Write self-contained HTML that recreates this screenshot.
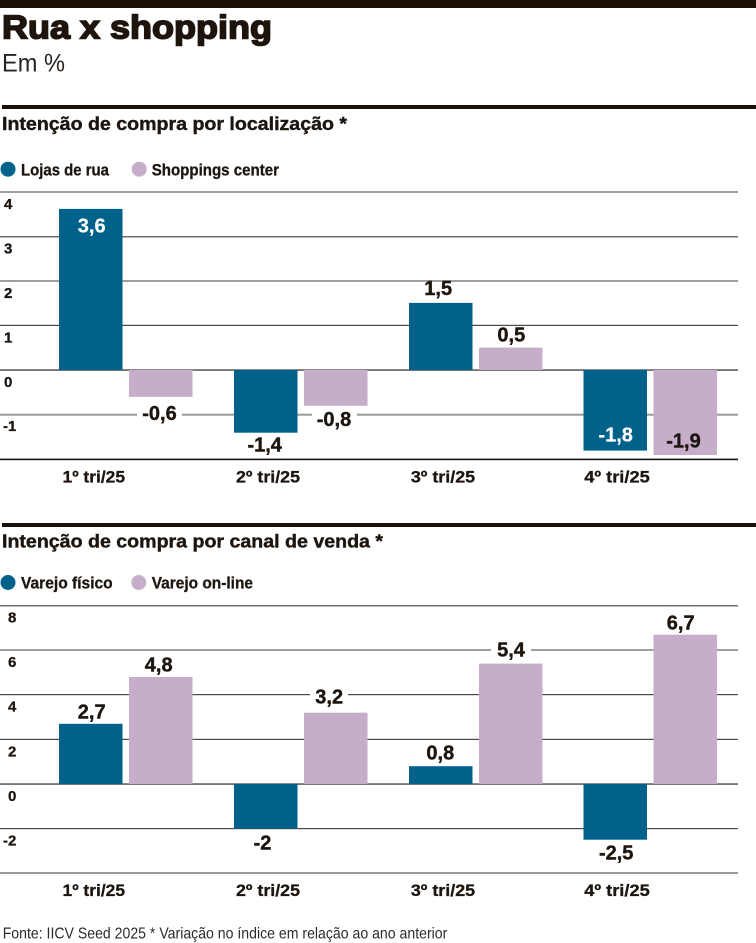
<!DOCTYPE html>
<html>
<head>
<meta charset="utf-8">
<style>
  html,body{margin:0;padding:0;background:#fff;}
  body{width:756px;height:943px;overflow:hidden;}
  svg{display:block;}
  text{font-family:"Liberation Sans", sans-serif;}
</style>
</head>
<body>
<svg width="756" height="943" viewBox="0 0 756 943" xmlns="http://www.w3.org/2000/svg">
  <rect x="0" y="0" width="756" height="943" fill="#fff"/>
  <!-- top bar -->
  <rect x="0" y="0" width="756" height="8" fill="#1a0f06"/>

  <!-- title -->
  <text x="2" y="38.5" font-size="33" font-weight="bold" fill="#1d140c" stroke="#1d140c" stroke-width="1.6" textLength="270" lengthAdjust="spacingAndGlyphs">Rua x shopping</text>
  <text x="2" y="71.7" font-size="25" fill="#2a2420" textLength="63" lengthAdjust="spacingAndGlyphs">Em %</text>

  <!-- separator 1 -->
  <rect x="2" y="105" width="754" height="4" fill="#1a0f06"/>
  <text x="2" y="130" font-size="18" font-weight="bold" fill="#1d1610" stroke="#1d1610" stroke-width="0.4" textLength="345" lengthAdjust="spacingAndGlyphs">Intenção de compra por localização *</text>

  <!-- legend 1 -->
  <circle cx="8" cy="169.2" r="7.5" fill="#00628a"/>
  <text x="21" y="175.7" font-size="16.5" font-weight="bold" fill="#1d1610" stroke="#1d1610" stroke-width="0.3" textLength="88" lengthAdjust="spacingAndGlyphs">Lojas de rua</text>
  <circle cx="139.2" cy="169.2" r="7.5" fill="#c6aecb"/>
  <text x="151.7" y="175.7" font-size="16.5" font-weight="bold" fill="#1d1610" stroke="#1d1610" stroke-width="0.3" textLength="127.3" lengthAdjust="spacingAndGlyphs">Shoppings center</text>

  <!-- chart 1 gridlines -->
  <rect x="0" y="191" width="738" height="2" fill="#a0a0a0"/>
  <rect x="0" y="236.2" width="738" height="1.2" fill="#4a4a4a"/>
  <rect x="0" y="280" width="738" height="2" fill="#a0a0a0"/>
  <rect x="0" y="324.8" width="738" height="1.2" fill="#4a4a4a"/>
  <rect x="0" y="369.4" width="738" height="1.3" fill="#3a3a3a"/>
  <rect x="0" y="413.7" width="738" height="2" fill="#9a9a9a"/>
  <rect x="0" y="458.6" width="738" height="1.6" fill="#151515"/>

  <!-- chart 1 y labels -->
  <g font-size="15" font-weight="bold" fill="#1d1610" stroke="#1d1610" stroke-width="0.3">
    <text x="4" y="209">4</text>
    <text x="4" y="253.5">3</text>
    <text x="4" y="298">2</text>
    <text x="4" y="342.5">1</text>
    <text x="4" y="387">0</text>
    <text x="3" y="431">-1</text>
  </g>

  <!-- chart 1 bars -->
  <rect x="59" y="208.9" width="63.5" height="161.1" fill="#00628a"/>
  <rect x="129" y="370" width="63.5" height="26.9" fill="#c6aecb"/>
  <rect x="234" y="370" width="63.5" height="62.7" fill="#00628a"/>
  <rect x="304" y="370" width="63.5" height="35.8" fill="#c6aecb"/>
  <rect x="409" y="302.9" width="63.5" height="67.1" fill="#00628a"/>
  <rect x="479" y="347.6" width="63.5" height="22.4" fill="#c6aecb"/>
  <rect x="583.5" y="370" width="63.5" height="80.6" fill="#00628a"/>
  <rect x="653.5" y="370" width="63.5" height="85" fill="#c6aecb"/>

  <!-- label backgrounds chart1 -->
  <rect x="137" y="411" width="45" height="7" fill="#fff"/>
  <rect x="312" y="411" width="45" height="7" fill="#fff"/>

  <!-- chart 1 value labels -->
  <g font-size="20" font-weight="bold" fill="#1d1610" stroke="#1d1610" stroke-width="0.4" text-anchor="middle">
    <text x="91.7" y="232.7" fill="#ffffff" stroke="#ffffff" stroke-width="0.2">3,6</text>
    <text x="159.5" y="420">-0,6</text>
    <text x="264.7" y="451.7">-1,4</text>
    <text x="334" y="426">-0,8</text>
    <text x="438.2" y="295">1,5</text>
    <text x="511.3" y="341.7">0,5</text>
    <text x="615.7" y="441.7" fill="#ffffff" stroke="#ffffff" stroke-width="0.2">-1,8</text>
    <text x="683.5" y="447.3">-1,9</text>
  </g>

  <!-- chart 1 x labels -->
  <g font-size="17" font-weight="bold" fill="#1d1610" stroke="#1d1610" stroke-width="0.3" text-anchor="middle">
    <text x="93.8" y="482.7" textLength="62.5" lengthAdjust="spacingAndGlyphs">1º tri/25</text>
    <text x="268" y="482.7" textLength="64" lengthAdjust="spacingAndGlyphs">2º tri/25</text>
    <text x="443" y="482.7" textLength="64.3" lengthAdjust="spacingAndGlyphs">3º tri/25</text>
    <text x="617" y="482.7" textLength="65.5" lengthAdjust="spacingAndGlyphs">4º tri/25</text>
  </g>

  <!-- separator 2 -->
  <rect x="2" y="523" width="754" height="4" fill="#1a0f06"/>
  <text x="2" y="547.3" font-size="18" font-weight="bold" fill="#1d1610" stroke="#1d1610" stroke-width="0.4" textLength="381" lengthAdjust="spacingAndGlyphs">Intenção de compra por canal de venda *</text>

  <!-- legend 2 -->
  <circle cx="8" cy="582.5" r="7.5" fill="#00628a"/>
  <text x="21" y="588.5" font-size="16.5" font-weight="bold" fill="#1d1610" stroke="#1d1610" stroke-width="0.3" textLength="91.7" lengthAdjust="spacingAndGlyphs">Varejo físico</text>
  <circle cx="138.8" cy="582.5" r="7.5" fill="#c6aecb"/>
  <text x="151.7" y="588.5" font-size="16.5" font-weight="bold" fill="#1d1610" stroke="#1d1610" stroke-width="0.3" textLength="101.3" lengthAdjust="spacingAndGlyphs">Varejo on-line</text>

  <!-- chart 2 gridlines -->
  <rect x="0" y="605.2" width="738" height="1.2" fill="#4a4a4a"/>
  <rect x="0" y="649" width="738" height="2" fill="#a0a0a0"/>
  <rect x="0" y="694" width="738" height="1.2" fill="#4a4a4a"/>
  <rect x="0" y="738.8" width="738" height="1.2" fill="#4a4a4a"/>
  <rect x="0" y="783.4" width="738" height="1.3" fill="#3a3a3a"/>
  <rect x="0" y="828" width="738" height="1.2" fill="#4a4a4a"/>
  <rect x="0" y="872" width="738" height="2" fill="#9a9a9a"/>

  <!-- chart 2 y labels -->
  <g font-size="15" font-weight="bold" fill="#1d1610" stroke="#1d1610" stroke-width="0.3">
    <text x="8" y="622.7">8</text>
    <text x="8" y="667">6</text>
    <text x="8" y="711.6">4</text>
    <text x="8" y="756.3">2</text>
    <text x="8" y="801">0</text>
    <text x="3" y="845.5">-2</text>
  </g>

  <!-- chart 2 bars -->
  <rect x="59" y="723.8" width="63.5" height="60.2" fill="#00628a"/>
  <rect x="129" y="677" width="63.5" height="107" fill="#c6aecb"/>
  <rect x="234" y="784" width="63.5" height="44.6" fill="#00628a"/>
  <rect x="304" y="712.7" width="63.5" height="71.3" fill="#c6aecb"/>
  <rect x="409" y="766.2" width="63.5" height="17.8" fill="#00628a"/>
  <rect x="479" y="663.6" width="63.5" height="120.4" fill="#c6aecb"/>
  <rect x="583.5" y="784" width="63.5" height="55.7" fill="#00628a"/>
  <rect x="653.5" y="634.7" width="63.5" height="149.3" fill="#c6aecb"/>

  <!-- label backgrounds chart2 -->
  <rect x="310" y="690" width="38" height="8" fill="#fff"/>
  <rect x="491" y="645" width="40" height="8" fill="#fff"/>

  <!-- chart 2 value labels -->
  <g font-size="20" font-weight="bold" fill="#1d1610" stroke="#1d1610" stroke-width="0.4" text-anchor="middle">
    <text x="91.7" y="718.3">2,7</text>
    <text x="158.7" y="671.7">4,8</text>
    <text x="262.5" y="849.3">-2</text>
    <text x="329.2" y="703.3">3,2</text>
    <text x="440.3" y="759.3">0,8</text>
    <text x="511" y="656.7">5,4</text>
    <text x="616.2" y="859.3">-2,5</text>
    <text x="680.7" y="629.3">6,7</text>
  </g>

  <!-- chart 2 x labels -->
  <g font-size="17" font-weight="bold" fill="#1d1610" stroke="#1d1610" stroke-width="0.3" text-anchor="middle">
    <text x="93.8" y="896" textLength="62.5" lengthAdjust="spacingAndGlyphs">1º tri/25</text>
    <text x="268" y="896" textLength="64" lengthAdjust="spacingAndGlyphs">2º tri/25</text>
    <text x="443" y="896" textLength="64.3" lengthAdjust="spacingAndGlyphs">3º tri/25</text>
    <text x="617" y="896" textLength="65.5" lengthAdjust="spacingAndGlyphs">4º tri/25</text>
  </g>

  <!-- footer -->
  <text x="2.7" y="938.3" font-size="16" fill="#2e2a26" textLength="444.6" lengthAdjust="spacingAndGlyphs">Fonte: IICV Seed 2025  * Variação no índice em relação ao ano anterior</text>
</svg>
</body>
</html>
